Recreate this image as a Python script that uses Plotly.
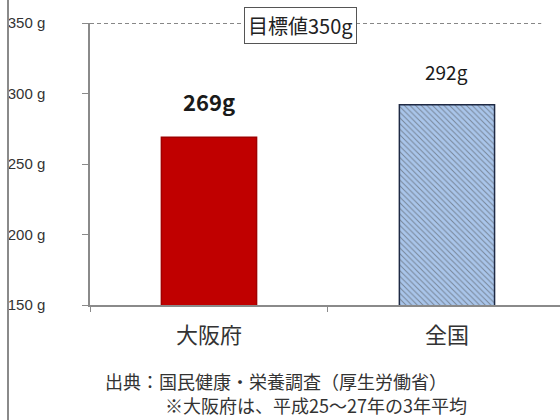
import plotly.graph_objects as go

# data
categories = ["大阪府", "全国"]
values = [269, 292]
target = 350
y_ticks = [150, 200, 250, 300, 350]

JP = "Noto Sans CJK JP"

fig = go.Figure()

fig.add_trace(go.Bar(
    x=categories,
    y=values,
    width=0.4,
    marker=dict(
        color=["#c00000", "#a9c5ea"],
        line=dict(color=["#a00000", "#1f2a44"], width=1.5),
        pattern=dict(shape=["", "\\"], fgcolor="#5f7fb5", size=4, solidity=0.25),
    ),
    showlegend=False,
    hoverinfo="skip",
))

# value labels above bars
labels = [f"<b>{values[0]}g</b>", f"{values[1]}g"]
sizes = [22, 19]
for cat, v, lab, s in zip(categories, values, labels, sizes):
    fig.add_annotation(x=cat, y=v, text=lab, showarrow=False, yanchor="bottom",
                       yshift=18, font=dict(family=JP, size=s, color="#1a1a1a"))

# target line and its label
fig.add_shape(type="line", xref="paper", yref="y", x0=0, x1=0.96, y0=target, y1=target,
              line=dict(color="#111111", width=1.2, dash="4px,3px"))
fig.add_annotation(xref="paper", yref="y", x=(300 - 90) / 470, y=target, yshift=-2,
                   text=f"目標値{target}g", showarrow=False,
                   font=dict(family=JP, size=20, color="#222222"),
                   bgcolor="white", bordercolor="#555555", borderwidth=1, borderpad=3)

# frame line on the left edge
fig.add_shape(type="line", xref="paper", yref="paper", x0=-82 / 470, x1=-82 / 470,
              y0=-115 / 282, y1=1 + 23 / 282, line=dict(color="#8a8a8a", width=2))

# source notes
fig.add_annotation(xref="paper", yref="paper", x=(103 - 90) / 470, y=-(381 - 305) / 282,
                   xanchor="left", yanchor="middle", showarrow=False,
                   text="出典：国民健康・栄養調査（厚生労働省）",
                   font=dict(family=JP, size=18, color="#333333"))
fig.add_annotation(xref="paper", yref="paper", x=(163 - 90) / 470, y=-(405 - 305) / 282,
                   xanchor="left", yanchor="middle", showarrow=False,
                   text="※大阪府は、平成25～27年の3年平均",
                   font=dict(family=JP, size=18, color="#333333"))

fig.update_layout(
    width=560, height=420,
    margin=dict(l=90, r=0, t=23, b=115),
    paper_bgcolor="white", plot_bgcolor="white",
    bargap=0.6,
    font=dict(family=JP),
)
fig.update_xaxes(
    range=[-0.5, 1.475], automargin=False,
    showline=True, linecolor="#8a8a8a", linewidth=1.5,
    ticks="outside", tickson="boundaries", ticklen=5, tickcolor="#8a8a8a",
    tickfont=dict(family=JP, size=22, color="#333333"),
    ticklabelstandoff=10,
    showgrid=False,
)
fig.update_yaxes(
    range=[150, 350], automargin=False,
    tickvals=y_ticks, ticktext=[f"{t} g" for t in y_ticks],
    showline=True, linecolor="#8a8a8a", linewidth=1.5,
    ticks="outside", ticklen=6, tickcolor="#8a8a8a",
    tickfont=dict(family="Liberation Sans", size=15, color="#333333"),
    ticklabelstandoff=34,
    showgrid=False, zeroline=False,
)

fig.write_html("out.html", config={"displayModeBar": False},
               post_script="document.body.style.margin='0';")
